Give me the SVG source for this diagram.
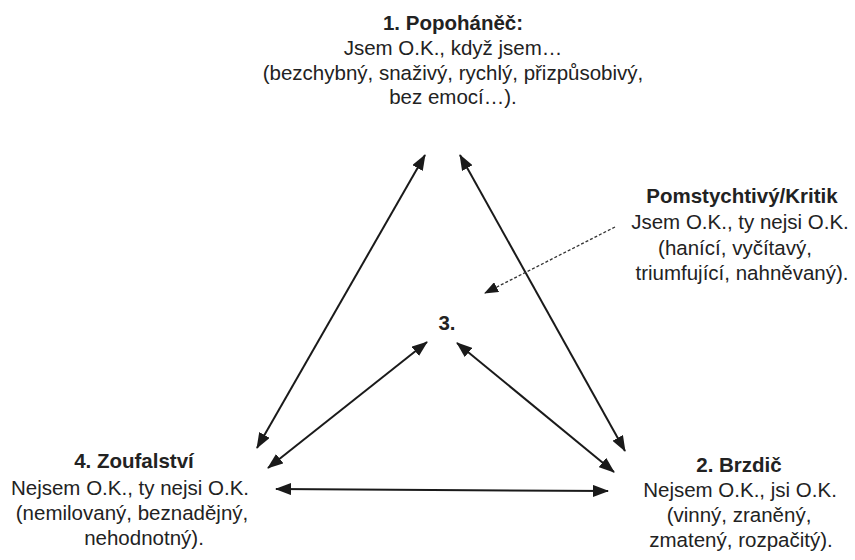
<svg xmlns="http://www.w3.org/2000/svg" width="855" height="560" viewBox="0 0 855 560">
<defs>
<style>
text{font-family:"Liberation Sans",Arial,sans-serif;font-size:20.5px;fill:#222;text-anchor:middle}
.b{font-weight:bold}
.c{stroke:#1a1a1a;stroke-width:2;fill:none}
.d{stroke:#333;stroke-width:1.3;fill:none;stroke-dasharray:3,2}
</style>
<marker id="ah" viewBox="0 0 16 12" refX="15" refY="6" markerWidth="16" markerHeight="12" markerUnits="userSpaceOnUse" orient="auto-start-reverse">
<path d="M0,0 L16,6 L0,12 Z" fill="#1a1a1a"/>
</marker>
<marker id="ah2" viewBox="0 0 14 11" refX="13" refY="5.5" markerWidth="14" markerHeight="11" markerUnits="userSpaceOnUse" orient="auto">
<path d="M0,0 L14,5.5 L0,11 Z" fill="#1a1a1a"/>
</marker>
</defs>
<rect width="855" height="560" fill="#ffffff"/>
<g id="n1">
<text class="b" x="453" y="30">1. Popoháněč:</text>
<text x="453" y="55">Jsem O.K., když jsem…</text>
<text x="453" y="80">(bezchybný, snaživý, rychlý, přizpůsobivý,</text>
<text x="453" y="104">bez emocí…).</text>
</g>
<g id="nk">
<text class="b" x="742" y="203">Pomstychtivý/Kritik</text>
<text x="740" y="229">Jsem O.K., ty nejsi O.K.</text>
<text x="735" y="255">(hanící, vyčítavý,</text>
<text x="742" y="280">triumfující, nahněvaný).</text>
</g>
<g id="n3">
<text class="b" x="447" y="330">3.</text>
</g>
<g id="n4">
<text class="b" x="134" y="468">4. Zoufalství</text>
<text x="130" y="495">Nejsem O.K., ty nejsi O.K.</text>
<text x="132" y="520">(nemilovaný, beznadějný,</text>
<text x="144" y="545">nehodnotný).</text>
</g>
<g id="n2">
<text class="b" x="739" y="472">2. Brzdič</text>
<text x="740" y="497">Nejsem O.K., jsi O.K.</text>
<text x="739" y="522">(vinný, zraněný,</text>
<text x="741" y="547">zmatený, rozpačitý).</text>
</g>
<g id="connectors">
<line class="c" x1="425" y1="155" x2="257" y2="448" marker-start="url(#ah)" marker-end="url(#ah)"/>
<line class="c" x1="460" y1="155" x2="625" y2="451" marker-start="url(#ah)" marker-end="url(#ah)"/>
<line class="c" x1="427" y1="342" x2="268" y2="468" marker-start="url(#ah)" marker-end="url(#ah)"/>
<line class="c" x1="457" y1="343" x2="614" y2="472" marker-start="url(#ah)" marker-end="url(#ah)"/>
<line class="c" x1="276" y1="489" x2="608" y2="491" marker-start="url(#ah)" marker-end="url(#ah)"/>
<line class="d" x1="615" y1="227" x2="485" y2="293" marker-end="url(#ah2)"/>
</g>
</svg>
